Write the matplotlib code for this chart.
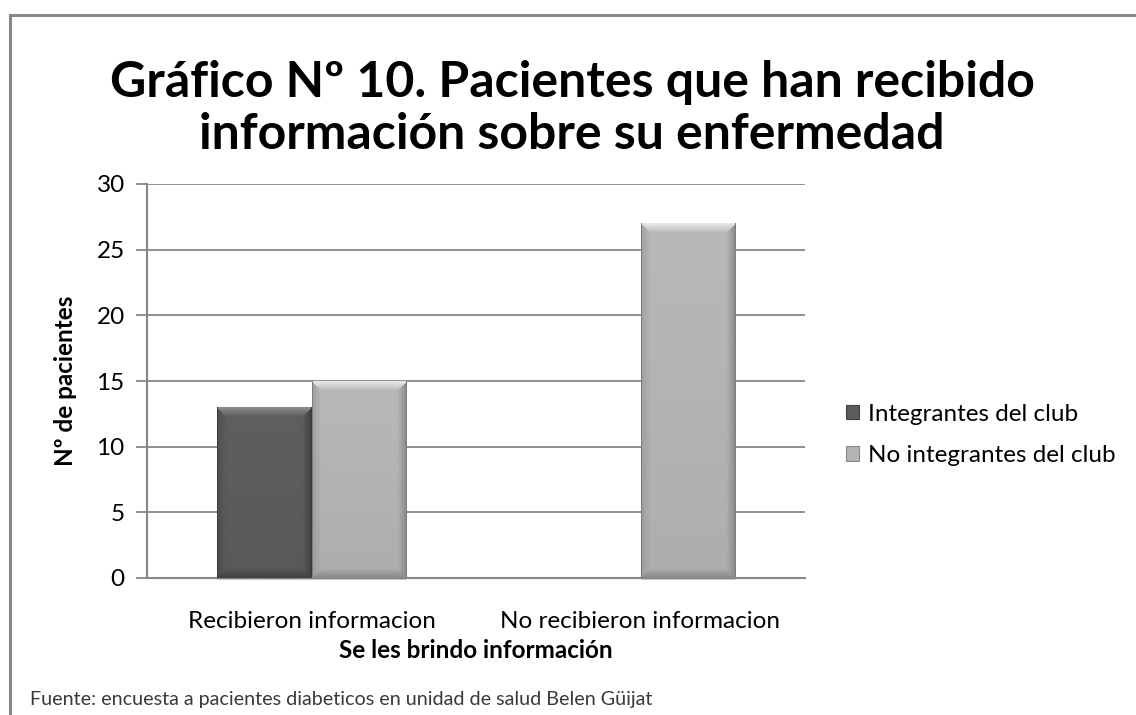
#!/usr/bin/env python3
"""Gráfico Nº 10 - pacientes que han recibido información (bar chart, bevelled bars)."""

import numpy as np
import matplotlib
matplotlib.use("Agg")
import matplotlib.pyplot as plt
from matplotlib.patches import Rectangle, Patch
from matplotlib.colors import to_rgb

FONT = ["Lato", "DejaVu Sans"]
plt.rcParams["font.family"] = FONT

categories = ["Recibieron informacion", "No recibieron informacion"]
series_names = ["Integrantes del club", "No integrantes del club"]
integrantes = [13, 0]
no_integrantes = [15, 27]
yticks = [0, 5, 10, 15, 20, 25, 30]

title = "Gráfico Nº 10. Pacientes que han recibido\ninformación sobre su enfermedad"
xlabel = "Se les brindo información"
ylabel = "Nº de pacientes"
footer = "Fuente: encuesta a pacientes diabeticos en unidad de salud Belen Güijat"

# (body, highlight, shadow) per series
styles = [("#5c5c5c", "#8c8c8c", "#404040"),
          ("#b3b3b3", "#e8e8e8", "#8a8a8a")]
GRID = "#878787"
FS = 17.5  # axis / legend text size

W, H, DPI = 1136, 715, 100


def bevel_image(w, h, body, hi, lo, bev=9):
    """RGB array of a bar with a bevelled (Excel 2007 style) look."""
    body, hi, lo = (np.array(to_rgb(c)) for c in (body, hi, lo))
    yy, xx = np.mgrid[0:h, 0:w]
    dt, db = yy, h - 1 - yy
    dl, dr = xx, w - 1 - xx
    img = np.empty((h, w, 3))
    # body: slight vertical shading
    t = yy / max(h - 1, 1)
    img[:] = (body * (1.03 - 0.06 * t[..., None])).clip(0, 1)
    dmin = np.minimum(np.minimum(dt, db), np.minimum(dl, dr))
    edge = dmin < bev
    f = (1 - dmin / bev)[..., None]
    top = edge & (dt == dmin)
    bot = edge & (db == dmin) & ~top
    lft = edge & (dl == dmin) & ~top & ~bot
    rgt = edge & ~top & ~bot & ~lft
    img[top] = (img * (1 - f) + hi * f)[top]
    img[bot] = (img * (1 - f) + lo * f)[bot]
    img[lft] = (img * (1 - 0.5 * f) + lo * 0.5 * f)[lft]
    img[rgt] = (img * (1 - f) + lo * f)[rgt]
    # thin outline
    img[:, :1] = lo * 0.9
    img[:, -1:] = lo * 0.9
    return img.clip(0, 1)


fig = plt.figure(figsize=(W / DPI, H / DPI), dpi=DPI)
ax = fig.add_axes([147 / W, 137 / H, 658 / W, 394 / H])

x = np.arange(len(categories))
bw = 0.286
ax.set_xlim(-0.5, len(categories) - 0.5)
ax.set_ylim(0, 30)

bars = []
for i, vals in enumerate([integrantes, no_integrantes]):
    off = (i - 0.5) * bw
    bc = ax.bar(x + off, vals, width=bw, color=styles[i][0], zorder=2,
                label=series_names[i])
    bars.append((bc, styles[i]))

# bevel shading painted on each bar
for bc, (body, hi, lo) in bars:
    for rect in bc:
        x0, y0 = rect.get_x(), rect.get_y()
        x1, y1 = x0 + rect.get_width(), y0 + rect.get_height()
        (px0, py0), (px1, py1) = ax.transData.transform([(x0, y0), (x1, y1)])
        pw, ph = int(round(px1 - px0)), int(round(py1 - py0))
        if ph < 2:
            continue
        ax.imshow(bevel_image(pw, ph, body, hi, lo), extent=(x0, x1, y0, y1),
                  aspect="auto", zorder=3, interpolation="bilinear")
        # soft shadow under the bar
        ax.add_patch(Rectangle((x0, y0 - 0.12), x1 - x0, 0.12, color="#c8c8c8",
                               zorder=1.5, lw=0, clip_on=False))
ax.set_xlim(-0.5, len(categories) - 0.5)
ax.set_ylim(0, 30)

ax.set_yticks(yticks)
ax.set_xticks(x)
ax.set_xticklabels(categories, fontsize=FS)
ax.tick_params(axis="x", length=0, pad=24)
ax.tick_params(axis="y", length=8, width=1.3, color=GRID, labelsize=FS, pad=8)
ax.grid(axis="y", color=GRID, lw=1.3, zorder=0)
ax.set_axisbelow(True)
for s in ("top", "right"):
    ax.spines[s].set_visible(False)
for s in ("left", "bottom"):
    ax.spines[s].set_color(GRID)
    ax.spines[s].set_linewidth(1.5)

ax.set_xlabel(xlabel, fontsize=FS, fontweight="bold", labelpad=5)
ax.set_ylabel(ylabel, fontsize=FS, fontweight="bold", labelpad=14)

fig.text(0.5035, 0.848, title, ha="center", va="center", fontsize=36,
         fontweight="bold", linespacing=1.2)

handles = [Patch(facecolor=styles[i][0], edgecolor=styles[i][2], lw=0.8)
           for i in range(2)]
ax.legend(handles, series_names, loc="center left",
          bbox_to_anchor=(846 / W, 1 - 435 / H), bbox_transform=fig.transFigure,
          frameon=False, fontsize=FS, handlelength=0.55, handleheight=0.55,
          handletextpad=0.35, labelspacing=0.85, borderpad=0, borderaxespad=0)

fig.text(30 / W, 1 - 700 / H, footer, ha="left", va="center", fontsize=14.2,
         color="#3a3a3a")

# outer chart frame (extends past right and bottom edges)
fig.patches.append(Rectangle((9.5 / W, -0.2), 1.2, 1.2 - 14.5 / H, fill=False,
                             edgecolor="#878787", lw=2.2,
                             transform=fig.transFigure, figure=fig))

fig.savefig("out.png", dpi=DPI)
